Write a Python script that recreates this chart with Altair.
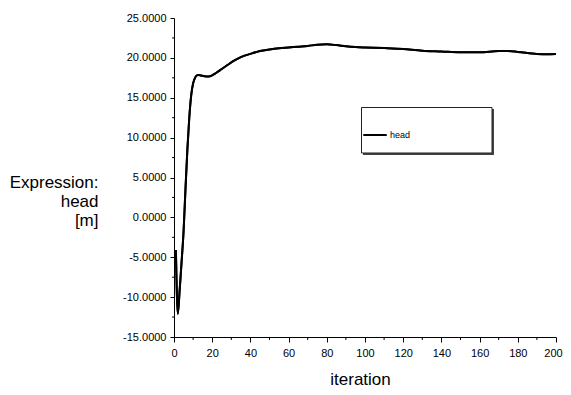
import altair as alt
import pandas as pd

iterations = [1, 2, 3, 4, 5, 6, 7, 8, 9, 10, 11, 12, 13, 14, 16, 18, 20, 22, 25, 28, 31, 35, 40, 45, 50,
              55, 60, 65, 70, 75, 80, 85, 90, 95, 100, 110, 120, 130, 140, 150, 160, 170, 175, 180, 190, 195, 200]
head = [-4.1, -12.1, -9.0, -5.5, -1.8, 3.5, 8.5, 12.5, 15.3, 16.8, 17.5, 17.8, 17.85, 17.8, 17.7, 17.65, 17.8,
        18.1, 18.6, 19.1, 19.6, 20.1, 20.5, 20.85, 21.05, 21.2, 21.3, 21.4, 21.5, 21.65, 21.7, 21.6, 21.45,
        21.35, 21.3, 21.25, 21.1, 20.9, 20.8, 20.7, 20.7, 20.85, 20.85, 20.75, 20.5, 20.45, 20.5]
series_name = "head"

x_ticks = list(range(0, 201, 20))
y_ticks = [-15, -10, -5, 0, 5, 10, 15, 20, 25]
minor_x_ticks = list(range(10, 200, 20))
minor_y_ticks = [-12.5, -7.5, -2.5, 2.5, 7.5, 12.5, 17.5, 22.5]

df = pd.DataFrame({"iteration": iterations, "value": head, "series": [series_name] * len(iterations)})

FONT = "Liberation Sans"

x_scale = alt.Scale(domain=[0, 200], nice=False)
y_scale = alt.Scale(domain=[-15, 25], nice=False, zero=False)

x_axis = alt.Axis(values=x_ticks, title="iteration", grid=False, domain=True,
                  domainColor="black", tickColor="black", tickSize=5, labelOverlap=False, labelFlush=False,
                  labelOffset={"condition": {"test": "datum.value == 200", "value": -3}, "value": 0},
                  labelFont=FONT, labelFontSize=11, labelColor="black", labelPadding=5,
                  titleFont=FONT, titleFontSize=17, titleFontWeight="normal", titleColor="black",
                  titleX=186, titleY=47, titleAlign="center", titleBaseline="alphabetic")
y_axis = alt.Axis(values=y_ticks, labelExpr="replace(format(datum.value, '.4f'), '\u2212', '-')",
                  title=["Expression:", "head", "[m]"], grid=False, labelOverlap=False, labelFlush=False,
                  domainColor="black", tickColor="black", tickSize=4,
                  labelFont=FONT, labelFontSize=11, labelColor="black", labelPadding=4,
                  titleFont=FONT, titleFontSize=17, titleFontWeight="normal", titleColor="black",
                  titleAngle=0, titleAlign="right", titleBaseline="alphabetic",
                  titleX=-76, titleY=169, titleLineHeight=19)

line = alt.Chart(df).mark_line(strokeWidth=2, interpolate="monotone").encode(
    x=alt.X("iteration:Q", scale=x_scale, axis=x_axis),
    y=alt.Y("value:Q", scale=y_scale, axis=y_axis),
    color=alt.Color("series:N", scale=alt.Scale(range=["black"]),
                    legend=alt.Legend(title=None, orient="none", legendX=188, legendY=104,
                                      symbolType="stroke", symbolStrokeWidth=2, symbolSize=550,
                                      labelFont=FONT, labelFontSize=9, labelColor="black",
                                      labelOffset=2, padding=0)),
)

box_shadow = alt.Chart(pd.DataFrame({"a": [0]})).mark_rect(color="#444").encode(
    x=alt.value(189), x2=alt.value(320), y=alt.value(91), y2=alt.value(137))
box = alt.Chart(pd.DataFrame({"a": [0]})).mark_rect(fill="white", stroke="#222", strokeWidth=1).encode(
    x=alt.value(187.5), x2=alt.value(318), y=alt.value(89.5), y2=alt.value(135))

# minor ticks
mx = alt.Chart(pd.DataFrame({"iteration": minor_x_ticks})).mark_rule(color="black").encode(
    x=alt.X("iteration:Q", scale=x_scale, axis=x_axis),
    y=alt.value(319), y2=alt.value(322))
my = alt.Chart(pd.DataFrame({"value": minor_y_ticks})).mark_rule(color="black").encode(
    y=alt.Y("value:Q", scale=y_scale, axis=y_axis),
    x=alt.value(-2), x2=alt.value(0))

chart = alt.layer(line, box_shadow, box, mx, my, line).properties(
    width=382, height=319,
    autosize=alt.AutoSizeParams(type="none"),
    padding={"left": 166, "top": 10, "right": 7, "bottom": 50},
).configure(background="white").configure_view(stroke=None)

chart.save("out.html", embed_options={"renderer": "svg", "actions": False})
